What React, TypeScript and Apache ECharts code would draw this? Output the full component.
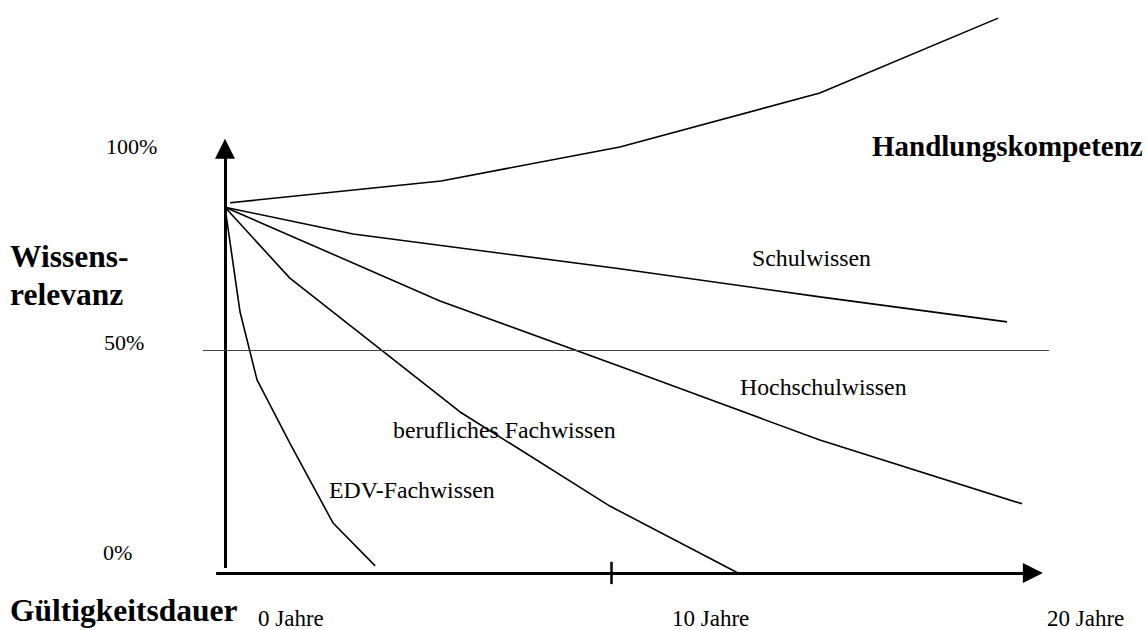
import React, { useEffect, useRef } from "react";
import * as echarts from "echarts";

// x = Jahre, y = Wissensrelevanz in %
const handlungskompetenz = [[0.13, 83], [5.6, 87.9], [10.23, 95.5], [15.41, 107.6], [20.03, 124.4]];
const schulwissen = [[0, 82], [3.32, 76.0], [10.23, 68.2], [15.41, 61.9], [20.26, 56.3]];
const hochschulwissen = [[0, 82], [5.57, 61.0], [10.49, 45.5], [15.41, 29.8], [20.65, 15.5]];
const beruflichesFachwissen = [[0, 82], [1.68, 66.1], [6.09, 36.1], [9.97, 15.0], [13.29, 0]];
const edvFachwissen = [[0, 82], [0.39, 58.5], [0.83, 43.3], [1.68, 29.1], [2.8, 11.2], [3.89, 1.6]];

const seriesNames = ["Handlungskompetenz", "Schulwissen", "Hochschulwissen", "berufliches Fachwissen", "EDV-Fachwissen"];
const yTickLabels = ["100%", "50%", "0%"];
const xTickLabels = ["0 Jahre", "10 Jahre", "20 Jahre"];
const yTitle = ["Wissens-", "relevanz"];
const xTitle = "Gültigkeitsdauer";

const SERIF = '"Liberation Serif", "Times New Roman", serif';

export default function App() {
  const ref = useRef<HTMLDivElement>(null);
  useEffect(() => {
    if (!ref.current) return;
    const chart = echarts.init(ref.current, undefined, { renderer: "svg" });
    const lineSeries = (name: string, data: number[][]) => ({
      name,
      type: "line",
      data,
      symbol: "none",
      silent: true,
      lineStyle: { color: "#000", width: 1.6 },
      clip: false,
    });
    const txt = (text: string, x: number, y: number, size: number, bold = false) => ({
      type: "text",
      x,
      y,
      silent: true,
      style: {
        text,
        fill: "#000",
        font: `${bold ? "bold " : ""}${size}px ${SERIF}`,
        textVerticalAlign: "middle",
        textAlign: "left",
      },
    });
    chart.setOption({
      animation: false,
      backgroundColor: "#fff",
      grid: { left: 186.4, top: 11, width: 887.8, height: 606.56 },
      xAxis: { type: "value", min: -1, max: 22, show: false },
      yAxis: { type: "value", min: -10, max: 126, show: false },
      series: [
        lineSeries(seriesNames[0], handlungskompetenz),
        lineSeries(seriesNames[1], schulwissen),
        lineSeries(seriesNames[2], hochschulwissen),
        lineSeries(seriesNames[3], beruflichesFachwissen),
        lineSeries(seriesNames[4], edvFachwissen),
        {
          name: "axes",
          type: "line",
          data: [],
          silent: true,
          markLine: {
            silent: true,
            animation: false,
            symbol: ["none", "triangle"],
            symbolSize: [20, 20],
            label: { show: false },
            emphasis: { disabled: true },
            lineStyle: { color: "#000", width: 3, type: "solid" },
            data: [
              [{ coord: [-0.23, 0] }, { coord: [20.93, 0] }],
              [{ coord: [0, 1.1] }, { coord: [0, 95.1] }],
            ],
          },
        },
        {
          name: "marks",
          type: "line",
          data: [],
          silent: true,
          markLine: {
            silent: true,
            animation: false,
            symbol: ["none", "none"],
            label: { show: false },
            emphasis: { disabled: true },
            data: [
              [
                { coord: [-0.57, 50], lineStyle: { color: "#444", width: 1, type: "solid" } },
                { coord: [21.35, 50] },
              ],
              [
                { coord: [10, 2.5], lineStyle: { color: "#000", width: 2.5, type: "solid" } },
                { coord: [10, -2.5] },
              ],
            ],
          },
        },
      ],
      graphic: [
        txt(yTickLabels[0], 106, 146, 22),
        txt(yTickLabels[1], 104, 342, 22),
        txt(yTickLabels[2], 103, 552, 22),
        txt(yTitle[0], 10, 256, 31.5, true),
        txt(yTitle[1], 10, 294, 31.5, true),
        txt(xTitle, 10, 610, 31.5, true),
        txt(xTickLabels[0], 258, 618, 23),
        txt(xTickLabels[1], 672, 618, 23),
        txt(xTickLabels[2], 1047, 618, 23),
        txt(seriesNames[0], 872, 146, 29, true),
        txt(seriesNames[1], 752, 258, 23.8),
        txt(seriesNames[2], 740, 387, 23.8),
        txt(seriesNames[3], 393, 430, 23.8),
        txt(seriesNames[4], 329, 490, 23.8),
      ],
    });
    return () => chart.dispose();
  }, []);
  return <div ref={ref} style={{ position: "absolute", left: 0, top: 0, width: 1147, height: 630 }} />;
}
